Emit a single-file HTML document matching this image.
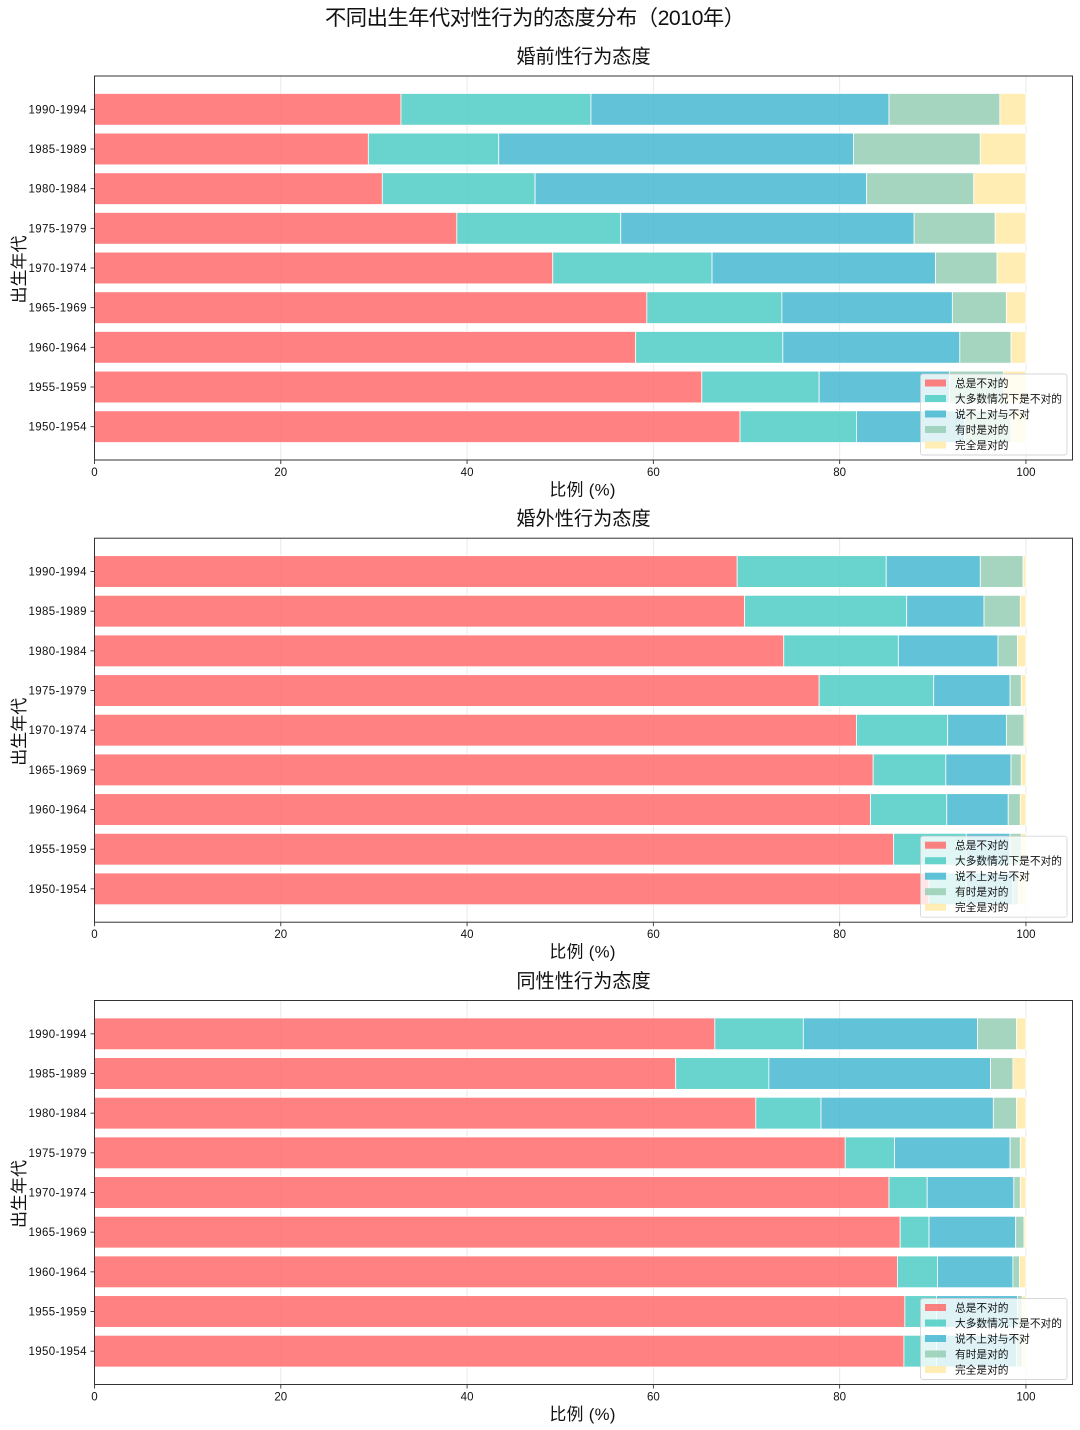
<!DOCTYPE html>
<html lang="zh">
<head>
<meta charset="utf-8">
<title>不同出生年代对性行为的态度分布（2010年）</title>
<style>
html,body{margin:0;padding:0;background:#fff;}
svg{display:block;}
text{font-family:"WenQuanYi Zen Hei","Liberation Sans","Noto Sans CJK SC",sans-serif;fill:#111;}
</style>
</head>
<body>
<svg id="chart" xmlns="http://www.w3.org/2000/svg" width="1080" height="1430" viewBox="0 0 1080 1430">
  <text x="535" y="25" font-size="21.3" textLength="420" lengthAdjust="spacing" text-anchor="middle">不同出生年代对性行为的态度分布（2010年）</text>
</svg>
<script>
const categories = ['1950-1954','1955-1959','1960-1964','1965-1969','1970-1974','1975-1979','1980-1984','1985-1989','1990-1994'];
const attitudes = ['总是不对的','大多数情况下是不对的','说不上对与不对','有时是对的','完全是对的'];
const xTicks = [0,20,40,60,80,100];
const premarital = [
  [69.3,12.5,11.6,5.0,1.6],
  [65.2,12.6,14.0,5.8,2.4],
  [58.1,15.8,19.0,5.5,1.6],
  [59.3,14.5,18.3,5.8,2.1],
  [49.2,17.1,24.0,6.6,3.1],
  [38.9,17.6,31.5,8.7,3.3],
  [30.9,16.4,35.6,11.5,5.6],
  [29.4,14.0,38.1,13.6,4.9],
  [32.9,20.4,32.0,11.9,2.8]
];
const extramarital = [
  [89.6,4.0,5.0,0.6,0.8],
  [85.8,7.8,4.7,1.2,0.5],
  [83.3,8.2,6.6,1.3,0.6],
  [83.6,7.8,7.0,1.1,0.5],
  [81.8,9.8,6.3,1.9,0.2],
  [77.8,12.3,8.2,1.2,0.5],
  [74.0,12.3,10.7,2.1,0.9],
  [69.8,17.4,8.3,3.9,0.6],
  [69.0,16.0,10.1,4.6,0.3]
];
const sameSex = [
  [86.9,3.5,8.6,0.6,0.4],
  [87.0,3.4,8.7,0.5,0.4],
  [86.2,4.3,8.1,0.7,0.7],
  [86.5,3.1,9.3,0.9,0.2],
  [85.3,4.1,9.3,0.7,0.6],
  [80.6,5.3,12.4,1.1,0.6],
  [71.0,7.0,18.5,2.5,1.0],
  [62.4,10.0,23.8,2.4,1.4],
  [66.6,9.5,18.7,4.2,1.0]
];
const panelTitles = ['婚前性行为态度','婚外性行为态度','同性性行为态度'];
const panelKeys = ['premarital','extramarital','same-sex'];
const panelValues = [premarital, extramarital, sameSex];
const colors = ['#FF6B6B','#4ECDC4','#45B7D1','#96CEB4','#FFEAA7'];

const NS = 'http://www.w3.org/2000/svg';
const svg = document.getElementById('chart');
const axLeft = 94.5, axRight = 1072.5, axH = 384;
const panelTops = [76, 538.2, 1000.5];
const xMax = 105, yMin = -0.84, yMax = 8.84, barH = 0.8;
const xScale = v => axLeft + (v / xMax) * (axRight - axLeft);
const yScale = (v, top) => top + axH - ((v - yMin) / (yMax - yMin)) * axH;

function mk(tag, attrs, parent, txt) {
  const el = document.createElementNS(NS, tag);
  for (const k in attrs) el.setAttribute(k, attrs[k]);
  if (txt !== undefined) el.textContent = txt;
  parent.appendChild(el);
  return el;
}

panelValues.forEach((rows, p) => {
  const top = panelTops[p], bottom = top + axH;
  const key = panelKeys[p];
  const g = mk('g', {}, svg);
  
  

  const title = mk('text', {x: (axLeft + axRight) / 2, y: top - 13, 'font-size': 19.2, 'text-anchor': 'middle'}, g, panelTitles[p]);
  
  

  xTicks.forEach(t => {
    const x = xScale(t);
    const grid = mk('line', {x1: x, x2: x, y1: top, y2: bottom, stroke: '#b0b0b0', 'stroke-opacity': 0.3, 'stroke-width': 0.9}, g);
    
    
  });

  rows.forEach((row, i) => {
    let cum = 0;
    row.forEach((v, s) => {
      const yTop = yScale(i + barH / 2, top), yBot = yScale(i - barH / 2, top);
      const r = mk('rect', {
        x: xScale(cum), y: yTop, width: xScale(cum + v) - xScale(cum), height: yBot - yTop,
        fill: colors[s], 'fill-opacity': 0.85, stroke: '#fff', 'stroke-width': 0.8
      }, g);
      
      
      cum += v;
    });
  });

  const frame = mk('rect', {x: axLeft, y: top, width: axRight - axLeft, height: axH, fill: 'none', stroke: '#333', 'stroke-width': 1}, g);
  
  

  xTicks.forEach(t => {
    const x = xScale(t);
    const tick = mk('line', {x1: x, x2: x, y1: bottom, y2: bottom + 4, stroke: '#333', 'stroke-width': 0.9}, g);
    
    
    const lab = mk('text', {x: x, y: bottom + 16, 'font-size': 11.5, 'text-anchor': 'middle'}, g, String(t));
    
    
  });

  categories.forEach((c, i) => {
    const y = yScale(i, top);
    const tick = mk('line', {x1: axLeft - 4, x2: axLeft, y1: y, y2: y, stroke: '#333', 'stroke-width': 0.9}, g);
    
    
    const lab = mk('text', {x: axLeft - 8, y: y + 4, 'font-size': 11.5, 'text-anchor': 'end', textLength: 58, lengthAdjust: 'spacing'}, g, c);
    
    
  });

  const xl = mk('text', {x: (axLeft + axRight) / 2 - 1, y: bottom + 35.5, 'font-size': 16.8, 'text-anchor': 'middle', textLength: 66, lengthAdjust: 'spacing'}, g, '比例 (%)');
  
  

  const yCenter = top + axH / 2 + 1.5;
  const yl = mk('text', {x: 0, y: 0, 'font-size': 17, 'text-anchor': 'middle', transform: 'translate(25 ' + yCenter + ') rotate(-90)'}, g, '出生年代');
  
  

  const lg = mk('g', {}, g);
  
  
  const lgTop = top + 298;
  const box = mk('rect', {x: 920.5, y: lgTop, width: 146.5, height: 81, rx: 2.5, fill: '#fff', 'fill-opacity': 0.8, stroke: '#ccc', 'stroke-opacity': 0.8, 'stroke-width': 0.9}, lg);
  
  
  attitudes.forEach((a, s) => {
    const y = lgTop + 9 + s * 15.5;
    const sw = mk('rect', {x: 925, y: y - 3.5, width: 21, height: 7, fill: colors[s], 'fill-opacity': 0.85}, lg);
    
    
    const t = mk('text', {x: 955, y: y + 4, 'font-size': 10.7}, lg, a);
    
    
  });
});
</script>
</body>
</html>
